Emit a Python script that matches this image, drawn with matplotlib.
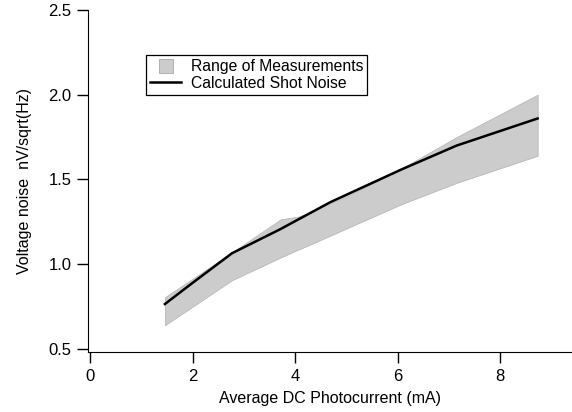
import matplotlib
matplotlib.use("Agg")
from matplotlib import pyplot as plt
from matplotlib.lines import Line2D

plt.rcParams['font.family'] = ['Liberation Sans', 'DejaVu Sans']

# measured range (shaded band)
band_x = [1.46, 2.77, 3.72, 4.05, 4.25, 5.07, 6.08, 7.15, 8.73]
band_lo = [0.64, 0.906, 1.04, 1.085, 1.11, 1.22, 1.355, 1.48, 1.64]
band_hi = [0.805, 1.07, 1.265, 1.28, 1.30, 1.41, 1.565, 1.75, 2.0]

# calculated shot noise
shot_x = [1.46, 2.0, 2.77, 3.7, 4.68, 6.08, 7.15, 8.73]
shot_y = [0.765, 0.89, 1.065, 1.205, 1.365, 1.56, 1.70, 1.86]

x_ticks = [0, 2, 4, 6, 8]
y_ticks = [0.5, 1.0, 1.5, 2.0, 2.5]

fig = plt.figure(figsize=(5.72, 4.12), dpi=100)
ax = fig.add_axes([88 / 572, 60 / 412, 484 / 572, 342 / 412])

ax.fill_between(band_x, band_lo, band_hi, color='#cccccc', edgecolor='#b8b8b8',
                linewidth=0.6)
line, = ax.plot(shot_x, shot_y, color='black', linewidth=1.8)

ax.set_xlim(-0.04, 9.4)
ax.set_ylim(0.482, 2.5)
ax.set_xticks(x_ticks)
ax.set_yticks(y_ticks)
ax.set_yticklabels(['%.1f' % v for v in y_ticks])

ax.spines['top'].set_visible(False)
ax.spines['right'].set_visible(False)
ax.tick_params(direction='out', length=8, width=1, labelsize=12, pad=4)

ax.set_xlabel('Average DC Photocurrent (mA)', fontsize=11.5, labelpad=5)
ax.set_ylabel('Voltage noise  nV/sqrt(Hz)', fontsize=11.5, labelpad=12)

# small grey square as in the original legend
band_handle = Line2D([], [], marker='s', markersize=10, linestyle='none',
                     markerfacecolor='#cccccc', markeredgecolor='#a8a8a8', markeredgewidth=0.6)
leg = ax.legend([band_handle, line], ['Range of Measurements', 'Calculated Shot Noise'],
                loc='upper left', bbox_to_anchor=(0.12, 0.868), borderaxespad=0,
                fancybox=False, framealpha=1, edgecolor='black', fontsize=11.3,
                handlelength=2.0, handletextpad=0.6, borderpad=0.25, labelspacing=0.1)
leg.get_frame().set_linewidth(0.9)

fig.savefig('out.png', dpi=100)
